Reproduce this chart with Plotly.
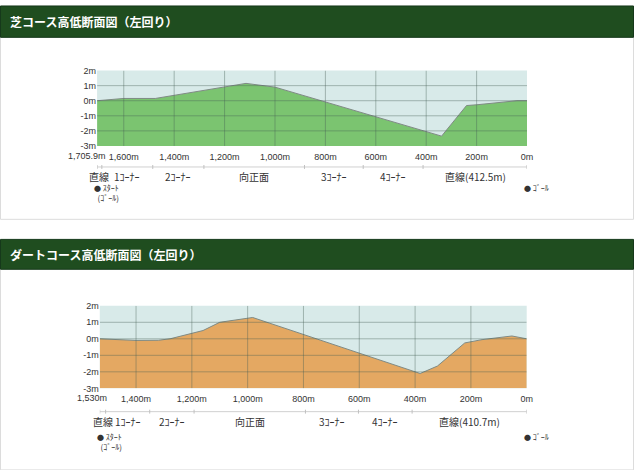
import plotly.graph_objects as go

W, H = 640, 470

# ---------------- data ----------------
turf_title = "芝コース高低断面図（左回り）"
turf_dist = [1705.9, 1600, 1475, 1115, 1000, 339, 240, 200, 40, 0]
turf_elev = [0.0, 0.15, 0.15, 1.15, 0.9, -2.35, -0.32, -0.27, 0.0, 0.0]
turf_total_label = "1,705.9m"
turf_seg_bounds = [1705.9, 1687, 1485, 1282, 883, 650, 412.5, 0]
turf_seg_names = ["直線", "1ｺｰﾅｰ", "2ｺｰﾅｰ", "向正面", "3ｺｰﾅｰ", "4ｺｰﾅｰ", "直線(412.5m)"]

dirt_title = "ダートコース高低断面図（左回り）"
dirt_dist = [1530, 1450, 1400, 1320, 1278, 1160, 1100, 982, 382, 320, 222, 160, 53, 0]
dirt_elev = [0.0, -0.07, -0.1, -0.09, 0.0, 0.5, 1.0, 1.29, -2.1, -1.65, -0.25, -0.05, 0.17, 0.0]
dirt_total_label = "1,530m"
dirt_seg_bounds = [1530, 1509, 1351, 1192, 793, 603, 410.7, 0]
dirt_seg_names = ["直線", "1ｺｰﾅｰ", "2ｺｰﾅｰ", "向正面", "3ｺｰﾅｰ", "4ｺｰﾅｰ", "直線(410.7m)"]

y_ticks = [2, 1, 0, -1, -2, -3]
y_tick_labels = ["2m", "1m", "0m", "-1m", "-2m", "-3m"]
x_ticks = [1600, 1400, 1200, 1000, 800, 600, 400, 200, 0]
x_tick_labels = ["1,600m", "1,400m", "1,200m", "1,000m", "800m", "600m", "400m", "200m", "0m"]

start_label = "ｽﾀｰﾄ"
start_label2 = "(ｺﾞｰﾙ)"
goal_label = "ｺﾞｰﾙ"

# ---------------- style ----------------
SKY = "#d8eae9"
TURF = "#7bc470"
DIRT = "#e4a862"
LINE = "#7f8a84"
GRID = "rgba(70,95,85,0.40)"
HEAD = "#1f4d1f"
JP = "Noto Sans CJK JP"
NUM = "Liberation Sans Narrow, Liberation Sans, Arial"
BULLET = "<span style='font-size:7px'>●</span> "


def px(x):
    return x / W


def py(y):
    return 1 - y / H


fig = go.Figure()
shapes = []
annotations = []

panels = [
    dict(title=turf_title, dist=turf_dist, elev=turf_elev, total=turf_total_label,
         bounds=turf_seg_bounds, names=turf_seg_names, fill=TURF,
         xdom=(98, 532), ydom=(67, 144), head=(1, 33), panel=(33, 219),
         seg_y=165.5, lab_y=175.5, st_y=192, total_right=109,
         xa="x", ya="y"),
    dict(title=dirt_title, dist=dirt_dist, elev=dirt_elev, total=dirt_total_label,
         bounds=dirt_seg_bounds, names=dirt_seg_names, fill=DIRT,
         xdom=(100.7, 531.7), ydom=(307.3, 391.7), head=(239.5, 270), panel=(270, 475),
         seg_y=415.5, lab_y=425.5, st_y=445.5, total_right=110,
         xa="x2", ya="y2"),
]

# plot-area sky backgrounds
for p in panels:
    shapes.append(dict(type="rect", xref=p["xa"] + " domain", yref=p["ya"] + " domain",
                       x0=0, x1=1, y0=0, y1=1, fillcolor=SKY, line=dict(width=0), layer="below"))

for i, p in enumerate(panels):
    xa, ya = p["xa"], p["ya"]
    xmax = p["dist"][0]
    # panel border and header
    shapes.insert(0, dict(type="rect", xref="paper", yref="paper", x0=px(0.5), x1=px(639.5),
                          y0=py(p["panel"][1]), y1=py(p["panel"][0]),
                          line=dict(color="#dcdcdc", width=1), fillcolor="white", layer="below"))
    shapes.append(dict(type="rect", xref="paper", yref="paper", x0=px(0.5), x1=px(639.5),
                       y0=py(p["head"][1]), y1=py(p["head"][0]),
                       line=dict(color="#15381a", width=1), fillcolor=HEAD, layer="below"))
    annotations.append(dict(text="<b>" + p["title"] + "</b>", xref="paper", yref="paper",
                            x=px(8), y=py((p["head"][0] + p["head"][1]) / 2),
                            xanchor="left", yanchor="middle", showarrow=False,
                            font=dict(family=JP, size=12, color="white")))
    # baseline and profile
    fig.add_trace(go.Scatter(x=[xmax, 0], y=[y_ticks[-1], y_ticks[-1]], mode="lines",
                             line=dict(width=0, color=p["fill"]), hoverinfo="skip",
                             showlegend=False, xaxis=xa, yaxis=ya))
    fig.add_trace(go.Scatter(x=p["dist"], y=p["elev"], mode="lines", fill="tonexty",
                             fillcolor=p["fill"], line=dict(color=LINE, width=1),
                             showlegend=False, xaxis=xa, yaxis=ya))
    # grid above fill
    for xv in x_ticks:
        if 0 < xv < xmax:
            shapes.append(dict(type="line", xref=xa, yref=ya, x0=xv, x1=xv,
                               y0=y_ticks[-1], y1=y_ticks[0],
                               line=dict(color=GRID, width=1), layer="above"))
    for yv in y_ticks[1:-1]:
        shapes.append(dict(type="line", xref=xa, yref=ya, x0=xmax, x1=0,
                           y0=yv, y1=yv, line=dict(color=GRID, width=1), layer="above"))
    # first distance label (right edge placed like the reference)
    annotations.append(dict(text=p["total"], xref="paper", yref=ya, x=px(p["total_right"]),
                            y=y_ticks[-1], xanchor="right", yanchor="top", yshift=-3,
                            showarrow=False, font=dict(family=NUM, size=9, color="#333")))
    # section bar
    seg_yp = py(p["seg_y"])
    shapes.append(dict(type="line", xref=xa, yref="paper", x0=p["bounds"][0], x1=p["bounds"][-1],
                       y0=seg_yp, y1=seg_yp, line=dict(color="#d0d0d0", width=1)))
    for b in p["bounds"]:
        shapes.append(dict(type="line", xref=xa, yref="paper", x0=b, x1=b,
                           y0=py(p["seg_y"] + 2), y1=py(p["seg_y"] - 2),
                           line=dict(color="#c0c0c0", width=1)))
    for k, name in enumerate(p["names"]):
        mid = (p["bounds"][k] + p["bounds"][k + 1]) / 2
        annotations.append(dict(text=name, xref=xa, yref="paper", x=mid, y=py(p["lab_y"]),
                                xanchor="center", yanchor="middle", showarrow=False,
                                font=dict(family=JP, size=10, color="#333")))
    annotations.append(dict(text=BULLET + start_label + "<br>\u00a0\u00a0" + start_label2,
                            xref=xa, yref="paper", x=xmax, y=py(p["st_y"]),
                            xanchor="left", yanchor="middle", align="left", xshift=-5,
                            showarrow=False, font=dict(family=JP, size=8, color="#333")))
    annotations.append(dict(text=BULLET + goal_label + "<br>\u00a0", xref=xa, yref="paper", x=0,
                            y=py(p["st_y"]), xanchor="left", yanchor="middle", align="left",
                            xshift=-5, showarrow=False, font=dict(family=JP, size=8, color="#333")))

    axis_x = dict(domain=[px(p["xdom"][0]), px(p["xdom"][1])], range=[xmax, 0],
                  tickvals=x_ticks, ticktext=x_tick_labels, showgrid=False, zeroline=False,
                  showline=False, ticks="", ticklabelstandoff=4,
                  tickfont=dict(family=NUM, size=9, color="#333"),
                  anchor=ya, fixedrange=True)
    axis_y = dict(domain=[py(p["ydom"][1]), py(p["ydom"][0])], range=[y_ticks[-1], y_ticks[0]],
                  tickvals=y_ticks, ticktext=y_tick_labels, showgrid=False, zeroline=False,
                  showline=False, ticks="", tickfont=dict(family=NUM, size=9, color="#333"),
                  anchor=xa, fixedrange=True)
    if i == 0:
        fig.update_layout(xaxis=axis_x, yaxis=axis_y)
    else:
        fig.update_layout(xaxis2=axis_x, yaxis2=axis_y)

fig.update_layout(width=W, height=H, margin=dict(l=0, r=0, t=0, b=0),
                  paper_bgcolor="white", plot_bgcolor="rgba(0,0,0,0)",
                  shapes=shapes, annotations=annotations, showlegend=False)

fig.write_html("out.html", config={"displayModeBar": False},
               post_script="document.body.style.margin='0';document.body.style.overflow='hidden';")
